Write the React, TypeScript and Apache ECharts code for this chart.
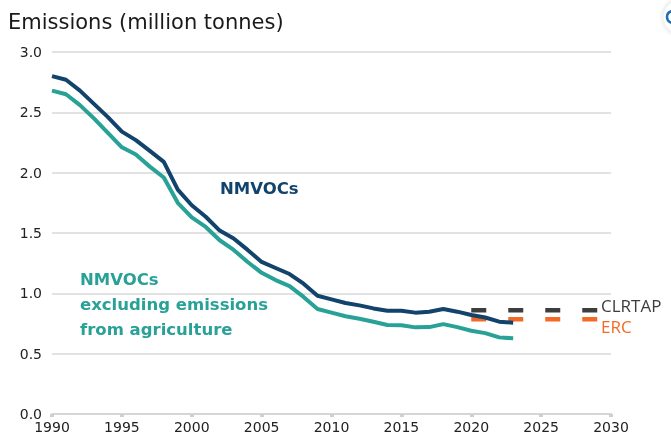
import React, { useEffect, useRef } from "react";
import * as echarts from "echarts";

const years = [1990, 1991, 1992, 1993, 1994, 1995, 1996, 1997, 1998, 1999, 2000, 2001, 2002, 2003, 2004, 2005, 2006, 2007, 2008, 2009, 2010, 2011, 2012, 2013, 2014, 2015, 2016, 2017, 2018, 2019, 2020, 2021, 2022, 2023];
const nmvocs = [2.80, 2.77, 2.68, 2.57, 2.46, 2.34, 2.27, 2.18, 2.09, 1.86, 1.73, 1.635, 1.52, 1.455, 1.36, 1.26, 1.21, 1.16, 1.08, 0.98, 0.95, 0.92, 0.90, 0.875, 0.856, 0.856, 0.84, 0.848, 0.87, 0.848, 0.82, 0.80, 0.765, 0.757];
const nmvocsExAgri = [2.68, 2.65, 2.56, 2.45, 2.33, 2.21, 2.15, 2.05, 1.96, 1.75, 1.63, 1.55, 1.44, 1.36, 1.26, 1.17, 1.11, 1.06, 0.97, 0.87, 0.84, 0.81, 0.79, 0.765, 0.737, 0.735, 0.718, 0.72, 0.745, 0.72, 0.69, 0.67, 0.635, 0.627];
const targetYears = [2020, 2030];
const clrtap = [0.86, 0.86];
const erc = [0.785, 0.785];
const xTicks = [1990, 1995, 2000, 2005, 2010, 2015, 2020, 2025, 2030];
const yTicks = [0, 0.5, 1.0, 1.5, 2.0, 2.5, 3.0];

const FONT = "DejaVu Sans";

export default function App() {
  const ref = useRef<HTMLDivElement>(null);
  useEffect(() => {
    const chart = echarts.init(ref.current!, null, { renderer: "svg" });
    const pair = (xs: number[], ys: number[]) => xs.map((x, i) => [x, ys[i]]);
    chart.setOption({
      animation: false,
      textStyle: { fontFamily: FONT },
      grid: { left: 52, right: 60, top: 52, bottom: 31, containLabel: false },
      xAxis: {
        type: "value",
        min: xTicks[0],
        max: xTicks[xTicks.length - 1],
        interval: 5,
        axisLine: { show: true, lineStyle: { color: "#d6d6d6", width: 2 } },
        axisTick: { show: true, length: 3, lineStyle: { color: "#cfcfcf", width: 4 } },
        axisLabel: { color: "#222", fontSize: 14, fontFamily: FONT, margin: 6, formatter: (v: number) => String(v) },
        splitLine: { show: false },
      },
      yAxis: {
        type: "value",
        min: yTicks[0],
        max: yTicks[yTicks.length - 1],
        interval: 0.5,
        axisLine: { show: false },
        axisTick: { show: false },
        axisLabel: { color: "#222", fontSize: 14, fontFamily: FONT, margin: 10, formatter: (v: number) => v.toFixed(1) },
        splitLine: { show: true, lineStyle: { color: "#d9d9d9", width: 1.5 } },
      },
      series: [
        {
          name: "NMVOCs excluding emissions from agriculture",
          type: "line",
          data: pair(years, nmvocsExAgri),
          showSymbol: false,
          lineStyle: { color: "#28A197", width: 4 },
          z: 3,
        },
        {
          name: "NMVOCs",
          type: "line",
          data: pair(years, nmvocs),
          showSymbol: false,
          lineStyle: { color: "#12436D", width: 4 },
          z: 4,
        },
        {
          name: "ERC",
          type: "line",
          data: pair(targetYears, erc),
          showSymbol: false,
          lineStyle: { color: "#F46A25", width: 4.5, type: [15, 22] },
          endLabel: { show: true, formatter: "ERC", color: "#F46A25", fontSize: 17, lineHeight: 17, fontFamily: "Open Sans", offset: [-18, 7] },
          z: 2,
        },
        {
          name: "CLRTAP",
          type: "line",
          data: pair(targetYears, clrtap),
          showSymbol: false,
          lineStyle: { color: "#3D3D3D", width: 4.5, type: [15, 22] },
          endLabel: { show: true, formatter: "CLRTAP", color: "#3D3D3D", fontSize: 17, lineHeight: 17, fontFamily: "Open Sans", offset: [-18, -5] },
          z: 2,
        },
      ],
      graphic: [
        {
          type: "text",
          left: 8,
          top: 11,
          style: { text: "Emissions (million tonnes)", fill: "#1a1a1a", font: `21px '${FONT}'` },
        },
        {
          type: "text",
          left: 220,
          top: 180,
          style: { text: "NMVOCs", fill: "#12436D", font: `bold 16.5px '${FONT}'` },
        },
        {
          type: "text",
          left: 80,
          top: 267,
          style: {
            text: "NMVOCs\nexcluding emissions\nfrom agriculture",
            fill: "#28A197",
            font: `bold 16.5px '${FONT}'`,
            lineHeight: 25,
          },
        },
        {
          type: "circle",
          shape: { cx: 680, cy: 17, r: 17 },
          style: { fill: "#ffffff", stroke: "#eeeeee", lineWidth: 1, shadowBlur: 4, shadowColor: "rgba(0,0,0,0.15)" },
        },
        {
          type: "arc",
          shape: { cx: 673, cy: 17, r: 6, startAngle: Math.PI * 0.6, endAngle: Math.PI * 1.4 },
          style: { stroke: "#1d70b8", lineWidth: 2.5, fill: "none" },
        },
      ],
    });
    return () => chart.dispose();
  }, []);
  return <div ref={ref} style={{ position: "fixed", left: 0, top: 0, width: 671, height: 445 }} />;
}
